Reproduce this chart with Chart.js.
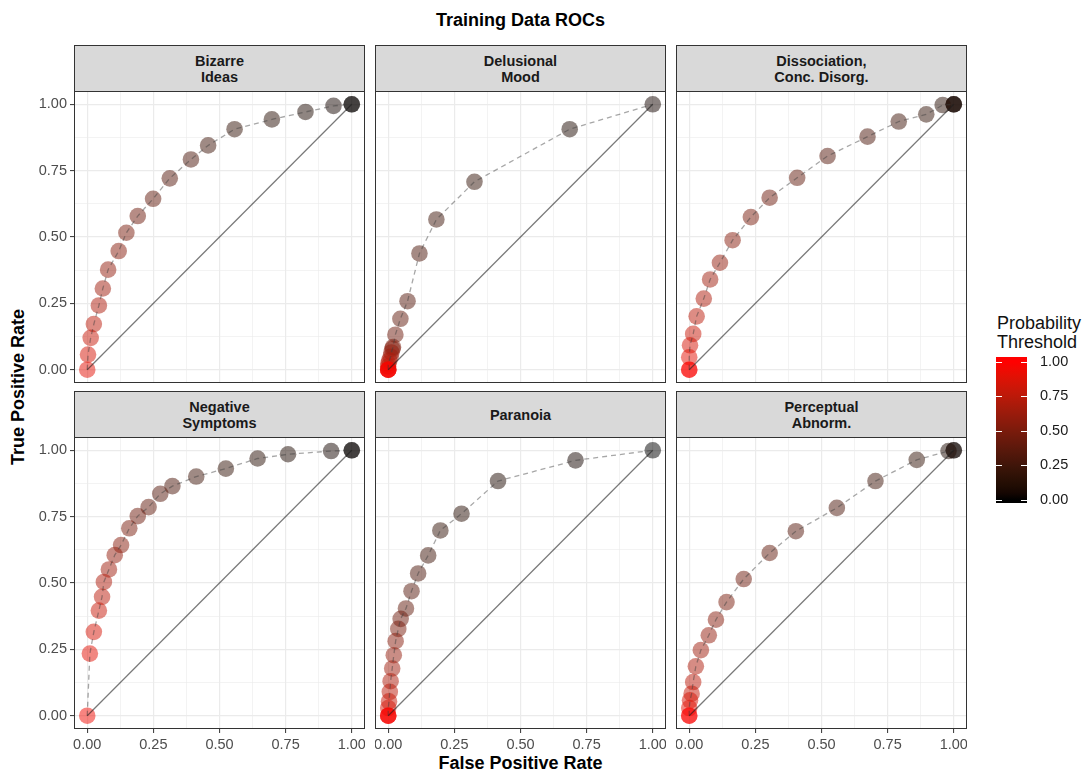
<!DOCTYPE html>
<html>
<head>
<meta charset="utf-8">
<script src="https://cdn.jsdelivr.net/npm/chart.js@4"></script>
<style>
  body { margin: 0; background: #fff; font-family: "Liberation Sans", Arial, sans-serif; }
  #wrap { position: relative; width: 1091px; height: 774px; overflow: hidden; }
  canvas { position: absolute; }
  .strip { position: absolute; box-sizing: border-box; border: 1px solid #333; background: #d9d9d9;
    display: flex; align-items: center; justify-content: center; text-align: center;
    font-weight: bold; font-size: 14.5px; line-height: 16px; color: #1a1a1a; }
  .txt { position: absolute; white-space: nowrap; }
</style>
</head>
<body>
<div id="wrap">
  <div class="txt" style="left:0;width:1041px;top:10px;text-align:center;font-weight:bold;font-size:18px;">Training Data ROCs</div>
  <div class="txt" style="left:0;width:1041px;top:753px;text-align:center;font-weight:bold;font-size:18px;">False Positive Rate</div>
  <div class="txt" style="left:18px;top:387px;transform:translate(-50%,-50%) rotate(-90deg);font-weight:bold;font-size:18px;">True Positive Rate</div>
  <div class="txt" style="left:997px;top:314px;font-size:18px;line-height:19px;color:#111;">Probability<br>Threshold</div>
</div>
<script>
// facet labels
const facetLabels = [
  ["Bizarre", "Ideas"], ["Delusional", "Mood"], ["Dissociation,", "Conc. Disorg."],
  ["Negative", "Symptoms"], ["Paranoia"], ["Perceptual", "Abnorm."]
];

// Bizarre Ideas
const fprBizarre = [0, 0.003, 0.013, 0.025, 0.044, 0.059, 0.079, 0.119, 0.148, 0.191, 0.249, 0.312, 0.392, 0.457, 0.557, 0.698, 0.825, 0.931, 1, 1];
const tprBizarre = [0, 0.057, 0.12, 0.172, 0.242, 0.306, 0.377, 0.447, 0.516, 0.579, 0.644, 0.721, 0.792, 0.845, 0.906, 0.943, 0.971, 0.994, 1, 1];
const thrBizarre = [0.9, 0.85, 0.8, 0.75, 0.7, 0.65, 0.6, 0.55, 0.5, 0.45, 0.4, 0.35, 0.3, 0.25, 0.2, 0.15, 0.1, 0.05, 0.02, 0];

// Delusional Mood
const fprDelusional = [0, 0, 0, 0, 0, 0, 0.004, 0.009, 0.012, 0.016, 0.018, 0.027, 0.046, 0.073, 0.118, 0.182, 0.326, 0.686, 1];
const tprDelusional = [0, 0, 0, 0, 0.012, 0.023, 0.035, 0.049, 0.065, 0.079, 0.085, 0.132, 0.192, 0.258, 0.438, 0.566, 0.708, 0.906, 1];
const thrDelusional = [1, 0.95, 0.9, 0.85, 0.8, 0.75, 0.7, 0.65, 0.6, 0.55, 0.5, 0.45, 0.4, 0.35, 0.3, 0.25, 0.2, 0.1, 0.05];

// Dissociation, Conc. Disorg.
const fprDissoc = [0, 0, 0, 0.003, 0.015, 0.028, 0.055, 0.079, 0.116, 0.164, 0.233, 0.304, 0.408, 0.523, 0.674, 0.792, 0.896, 0.958, 1, 1, 1];
const tprDissoc = [0, 0, 0.047, 0.092, 0.135, 0.201, 0.268, 0.34, 0.403, 0.488, 0.575, 0.648, 0.723, 0.805, 0.878, 0.935, 0.962, 0.997, 1, 1, 1];
const thrDissoc = [1, 0.95, 0.9, 0.85, 0.8, 0.75, 0.7, 0.65, 0.6, 0.55, 0.5, 0.45, 0.4, 0.35, 0.3, 0.25, 0.2, 0.15, 0.1, 0.05, 0];

// Negative Symptoms
const fprNegative = [0, 0.01, 0.025, 0.044, 0.056, 0.063, 0.082, 0.104, 0.128, 0.159, 0.191, 0.232, 0.276, 0.322, 0.412, 0.524, 0.644, 0.759, 0.922, 1, 1];
const tprNegative = [0, 0.234, 0.316, 0.396, 0.448, 0.504, 0.551, 0.605, 0.643, 0.706, 0.752, 0.786, 0.836, 0.865, 0.901, 0.931, 0.969, 0.985, 0.997, 1, 1];
const thrNegative = [0.95, 0.9, 0.85, 0.8, 0.75, 0.7, 0.65, 0.6, 0.55, 0.5, 0.45, 0.4, 0.35, 0.3, 0.25, 0.2, 0.15, 0.1, 0.05, 0.02, 0];

// Paranoia
const fprParanoia = [0, 0, 0, 0, 0.003, 0.006, 0.009, 0.015, 0.021, 0.028, 0.038, 0.047, 0.067, 0.088, 0.113, 0.151, 0.197, 0.277, 0.415, 0.708, 1];
const tprParanoia = [0, 0, 0, 0.029, 0.054, 0.09, 0.13, 0.178, 0.228, 0.281, 0.327, 0.365, 0.404, 0.469, 0.536, 0.604, 0.698, 0.761, 0.884, 0.962, 1];
const thrParanoia = [1, 0.95, 0.9, 0.85, 0.8, 0.75, 0.7, 0.65, 0.6, 0.55, 0.5, 0.45, 0.4, 0.35, 0.3, 0.25, 0.2, 0.15, 0.1, 0.05, 0];

// Perceptual Abnorm.
const fprPerceptual = [0, 0, 0, 0.003, 0.009, 0.015, 0.025, 0.044, 0.074, 0.101, 0.141, 0.206, 0.304, 0.403, 0.558, 0.704, 0.86, 0.98, 1, 1];
const tprPerceptual = [0, 0, 0.029, 0.058, 0.083, 0.127, 0.186, 0.247, 0.303, 0.362, 0.428, 0.515, 0.613, 0.695, 0.783, 0.884, 0.964, 0.997, 1, 1];
const thrPerceptual = [1, 0.95, 0.9, 0.85, 0.8, 0.75, 0.7, 0.65, 0.6, 0.55, 0.5, 0.45, 0.4, 0.35, 0.3, 0.25, 0.2, 0.1, 0.05, 0];

const gridTicks = [0, 0.125, 0.25, 0.375, 0.5, 0.625, 0.75, 0.875, 1];
const legendTicks = [0, 0.25, 0.5, 0.75, 1];

const panels = [
  { fpr: fprBizarre, tpr: tprBizarre, thr: thrBizarre },
  { fpr: fprDelusional, tpr: tprDelusional, thr: thrDelusional },
  { fpr: fprDissoc, tpr: tprDissoc, thr: thrDissoc },
  { fpr: fprNegative, tpr: tprNegative, thr: thrNegative },
  { fpr: fprParanoia, tpr: tprParanoia, thr: thrParanoia },
  { fpr: fprPerceptual, tpr: tprPerceptual, thr: thrPerceptual },
];

const FONT = "'Liberation Sans', Arial, sans-serif";
Chart.defaults.font.family = FONT;

// black -> red in Lab, like ggplot's gradient
function labToRgb(L, a, b) {
  let y = (L + 16) / 116, x = a / 500 + y, z = y - b / 200;
  const f = t => (t ** 3 > 0.008856 ? t ** 3 : (t - 16 / 116) / 7.787);
  x = 0.95047 * f(x); y = f(y); z = 1.08883 * f(z);
  const r = x * 3.2406 - y * 1.5372 - z * 0.4986;
  const g = -x * 0.9689 + y * 1.8758 + z * 0.0415;
  const bl = x * 0.0557 - y * 0.204 + z * 1.057;
  const gam = c => (c > 0.0031308 ? 1.055 * c ** (1 / 2.4) - 0.055 : 12.92 * c);
  return [r, g, bl].map(c => Math.round(Math.max(0, Math.min(1, gam(c))) * 255));
}
function thrColor(t, alpha) {
  const [r, g, b] = labToRgb(53.24 * t, 80.09 * t, 67.2 * t);
  return `rgba(${r},${g},${b},${alpha})`;
}

const isMajor = v => Math.abs(v * 4 - Math.round(v * 4)) < 1e-6;

// no automatic label padding, so every panel area lines up
function fixSize(s, prop, size) {
  s[prop] = size;
  s.paddingTop = s.paddingBottom = s.paddingLeft = s.paddingRight = 0;
}

const borderPlugin = {
  id: "panelBorder",
  afterDraw(chart) {
    const { ctx, chartArea: a } = chart;
    ctx.save();
    ctx.strokeStyle = "#333";
    ctx.lineWidth = 1;
    ctx.strokeRect(a.left + 0.5, a.top + 0.5, a.right - a.left - 1, a.bottom - a.top - 1);
    ctx.restore();
  }
};

const colX = [74, 375, 676];
const rowY = [91, 437];
const W = 291, H = 292, STRIP = 46, LEFT = 54, BOTTOM = 24;
const wrap = document.getElementById("wrap");

panels.forEach((p, i) => {
  const r = Math.floor(i / 3), c = i % 3;
  const showY = c === 0, showX = r === 1;

  const strip = document.createElement("div");
  strip.className = "strip";
  strip.style.left = colX[c] + "px";
  strip.style.top = (rowY[r] - STRIP) + "px";
  strip.style.width = W + "px";
  strip.style.height = (STRIP + 1) + "px";
  strip.innerHTML = facetLabels[i].join("<br>");
  wrap.appendChild(strip);

  const cv = document.createElement("canvas");
  const cw = W + (showY ? LEFT : 0), ch = H + (showX ? BOTTOM : 0);
  cv.width = cw; cv.height = ch;
  cv.style.left = (colX[c] - (showY ? LEFT : 0)) + "px";
  cv.style.top = rowY[r] + "px";
  cv.style.width = cw + "px"; cv.style.height = ch + "px";
  wrap.appendChild(cv);

  const pts = p.fpr.map((x, k) => ({ x, y: p.tpr[k] }));
  // low thresholds first, so the red points end up on top
  const ptsDraw = pts.slice().reverse();
  const colsDraw = p.thr.map(t => thrColor(t, 0.5)).reverse();

  const axis = (show, sizeProp, size) => ({
    type: "linear", min: -0.05, max: 1.05,
    afterBuildTicks: s => { s.ticks = gridTicks.map(v => ({ value: v })); },
    afterFit: s => fixSize(s, sizeProp, show ? size : 0),
    border: { display: false },
    grid: {
      color: "#ebebeb",
      lineWidth: ctx => (ctx.tick && isMajor(ctx.tick.value) ? 1.2 : 0.6),
      drawTicks: show, tickLength: 4, tickWidth: 1,
      tickColor: ctx => (ctx.tick && isMajor(ctx.tick.value) ? "#333" : "rgba(0,0,0,0)")
    },
    ticks: {
      display: show, autoSkip: false, maxRotation: 0, padding: 3,
      color: "#4d4d4d", font: { size: 14.5, family: FONT },
      callback: v => (isMajor(v) ? v.toFixed(2) : "")
    }
  });

  new Chart(cv, {
    type: "scatter",
    data: {
      datasets: [
        { data: [{ x: 0, y: 0 }, { x: 1, y: 1 }], showLine: true, borderColor: "rgba(30,30,30,0.6)",
          borderWidth: 1.2, pointRadius: 0, order: 0 },
        { data: pts, showLine: true, borderColor: "rgba(60,60,60,0.45)", borderDash: [5, 4],
          borderWidth: 1.3, pointRadius: 0, order: 1 },
        { data: ptsDraw, pointRadius: 8.3, pointBorderWidth: 0,
          pointBackgroundColor: colsDraw, order: 2 }
      ]
    },
    options: {
      responsive: false, animation: false, devicePixelRatio: 1, events: [],
      layout: { padding: 0, autoPadding: false },
      plugins: { legend: { display: false }, tooltip: { enabled: false } },
      scales: { x: axis(showX, "height", BOTTOM), y: axis(showY, "width", LEFT) }
    },
    plugins: [borderPlugin]
  });
});

// colour bar legend
const lc = document.createElement("canvas");
lc.width = 90; lc.height = 166;
lc.style.left = "996px"; lc.style.top = "347px";
lc.style.width = "90px"; lc.style.height = "166px";
wrap.appendChild(lc);

const barPlugin = {
  id: "colourBar",
  beforeDatasetsDraw(chart) {
    const { ctx, chartArea: a, scales } = chart;
    const ys = scales.y;
    const grad = ctx.createLinearGradient(0, ys.getPixelForValue(0), 0, ys.getPixelForValue(1));
    for (let k = 0; k <= 20; k++) grad.addColorStop(k / 20, thrColor(k / 20, 1));
    ctx.save();
    ctx.fillStyle = grad;
    ctx.fillRect(a.left, a.top, a.right - a.left, a.bottom - a.top);
    ctx.strokeStyle = "#fff";
    ctx.lineWidth = 1;
    legendTicks.forEach(v => {
      const y = Math.round(ys.getPixelForValue(v)) + 0.5;
      ctx.beginPath();
      ctx.moveTo(a.left, y); ctx.lineTo(a.left + 6, y);
      ctx.moveTo(a.right - 6, y); ctx.lineTo(a.right, y);
      ctx.stroke();
    });
    ctx.restore();
  }
};

new Chart(lc, {
  type: "scatter",
  data: { datasets: [{ data: [] }] },
  options: {
    responsive: false, animation: false, devicePixelRatio: 1, events: [],
    layout: { padding: { top: 10, bottom: 10 }, autoPadding: false },
    plugins: { legend: { display: false }, tooltip: { enabled: false } },
    scales: {
      x: { display: false, min: 0, max: 1 },
      y: {
        position: "right", min: -0.022, max: 1.036,
        afterBuildTicks: s => { s.ticks = legendTicks.map(v => ({ value: v })); },
        afterFit: s => fixSize(s, "width", 90 - 31),
        border: { display: false },
        grid: { display: false },
        ticks: { padding: 5, color: "#1a1a1a", font: { size: 14.5, family: FONT },
          callback: v => v.toFixed(2) }
      }
    }
  },
  plugins: [barPlugin]
});
</script>
</body>
</html>
